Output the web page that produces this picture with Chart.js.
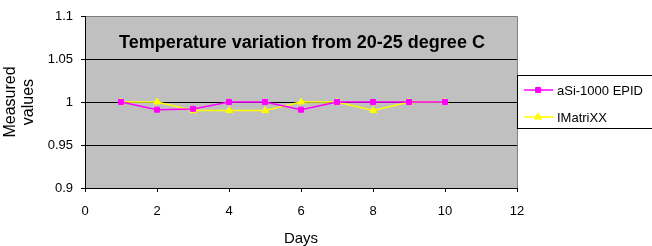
<!DOCTYPE html>
<html>
<head>
<meta charset="utf-8">
<script src="https://cdn.jsdelivr.net/npm/chart.js@4/dist/chart.umd.min.js"></script>
<style>
  html, body { margin: 0; padding: 0; background: #fff; }
  #wrap { width: 652px; height: 246px; }
</style>
</head>
<body>
<div id="wrap"><canvas id="chart" width="652" height="246"></canvas></div>
<script>
// data
const days = [1, 2, 3, 4, 5, 6, 7, 8, 9, 10];
const epidValues = [1, 0.991, 0.992, 1, 1, 0.991, 1, 1, 1, 1];
const matrixxValues = [1, 1, 0.99, 0.99, 0.99, 1, 1, 0.99, 1, 1];
const xTicks = [0, 2, 4, 6, 8, 10, 12];
const yTicks = [0.9, 0.95, 1, 1.05, 1.1];
const titleText = 'Temperature variation from 20-25 degree C';

const FONT = "'Liberation Sans', Arial, sans-serif";

const toPoints = (xs, ys) => xs.map((x, i) => ({ x: x, y: ys[i] }));

// grey plot area with thin border on top/right, like Excel
const plotBackground = {
  id: 'plotBackground',
  beforeDraw(chart) {
    const { ctx, chartArea: a } = chart;
    ctx.save();
    ctx.fillStyle = '#c0c0c0';
    ctx.fillRect(a.left, a.top, a.right - a.left, a.bottom - a.top);
    ctx.strokeStyle = '#808080';
    ctx.lineWidth = 1;
    ctx.beginPath();
    ctx.moveTo(a.left, a.top + 0.5);
    ctx.lineTo(a.right + 0.5, a.top + 0.5);
    ctx.lineTo(a.right + 0.5, a.bottom);
    ctx.stroke();
    ctx.restore();
  }
};

// title sits inside the plot area
const innerTitle = {
  id: 'innerTitle',
  afterDraw(chart) {
    const { ctx } = chart;
    ctx.save();
    ctx.font = 'bold 18px ' + FONT;
    ctx.fillStyle = '#000';
    ctx.textAlign = 'center';
    ctx.textBaseline = 'middle';
    ctx.fillText(titleText, 302, 43);
    ctx.restore();
  }
};

// boxed legend to the right of the plot
const boxLegend = {
  id: 'boxLegend',
  afterDraw(chart) {
    const { ctx } = chart;
    const left = 517, top = 75, bottom = 128;
    ctx.save();
    ctx.fillStyle = '#fff';
    ctx.fillRect(left, top, 150, bottom - top);
    ctx.strokeStyle = '#000';
    ctx.lineWidth = 1;
    ctx.strokeRect(left + 0.5, top + 0.5, 150, bottom - top);
    const rows = [90, 117];
    chart.data.datasets.forEach((ds, i) => {
      const y = rows[i];
      ctx.strokeStyle = ds.borderColor;
      ctx.lineWidth = 1.5;
      ctx.beginPath();
      ctx.moveTo(524, y);
      ctx.lineTo(553, y);
      ctx.stroke();
      ctx.fillStyle = ds.backgroundColor;
      ctx.lineWidth = 1;
      Chart.helpers.drawPoint(ctx, {
        pointStyle: ds.pointStyle,
        radius: ds.pointRadius,
        borderWidth: 1,
        rotation: 0
      }, 538, y);
      ctx.fillStyle = '#000';
      ctx.font = '13px ' + FONT;
      ctx.textAlign = 'left';
      ctx.textBaseline = 'middle';
      ctx.fillText(ds.label, 557, y + 1);
    });
    ctx.restore();
  }
};

new Chart(document.getElementById('chart'), {
  type: 'line',
  data: {
    datasets: [
      {
        label: 'aSi-1000 EPID',
        data: toPoints(days, epidValues),
        borderColor: '#ff00ff',
        backgroundColor: '#ff00ff',
        borderWidth: 1.5,
        pointStyle: 'rect',
        pointRadius: 3.5,
        pointBorderWidth: 1
      },
      {
        label: 'IMatriXX',
        data: toPoints(days, matrixxValues),
        borderColor: '#ffff00',
        backgroundColor: '#ffff00',
        borderWidth: 1.5,
        pointStyle: 'triangle',
        pointRadius: 4,
        pointBorderWidth: 1
      }
    ]
  },
  options: {
    responsive: false,
    animation: false,
    events: [],
    layout: { padding: { top: 16, right: 135, left: 0, bottom: 0 } },
    plugins: {
      legend: { display: false },
      title: { display: false },
      tooltip: { enabled: false }
    },
    scales: {
      x: {
        type: 'linear',
        min: 0,
        max: 12,
        afterBuildTicks(scale) { scale.ticks = xTicks.map(v => ({ value: v })); },
        afterFit(scale) { scale.height = 58; },
        grid: { drawOnChartArea: false, tickLength: 4, color: '#000', tickColor: '#000' },
        border: { color: '#000', width: 1 },
        ticks: { color: '#000', font: { family: FONT, size: 13 }, padding: 12, maxRotation: 0 },
        title: {
          display: true,
          text: 'Days',
          color: '#000',
          font: { family: FONT, size: 15, lineHeight: 1 },
          padding: { top: 0, bottom: 0 }
        }
      },
      y: {
        min: 0.9,
        max: 1.1,
        afterBuildTicks(scale) { scale.ticks = yTicks.map(v => ({ value: v })); },
        afterFit(scale) { scale.width = 85; },
        grid: {
          tickLength: 4,
          tickColor: '#000',
          color: ctx => (ctx.tick && ctx.tick.value === 1.1 ? 'rgba(0,0,0,0)' : '#000')
        },
        border: { color: '#000', width: 1 },
        ticks: {
          color: '#000',
          font: { family: FONT, size: 13 },
          padding: 8,
          callback: v => String(+Number(v).toFixed(2))
        },
        title: {
          display: true,
          text: ['Measured', 'values'],
          color: '#000',
          font: { family: FONT, size: 16, lineHeight: 1.15 },
          padding: { top: 1, bottom: 0 }
        }
      }
    }
  },
  plugins: [plotBackground, innerTitle, boxLegend]
});
</script>
</body>
</html>
